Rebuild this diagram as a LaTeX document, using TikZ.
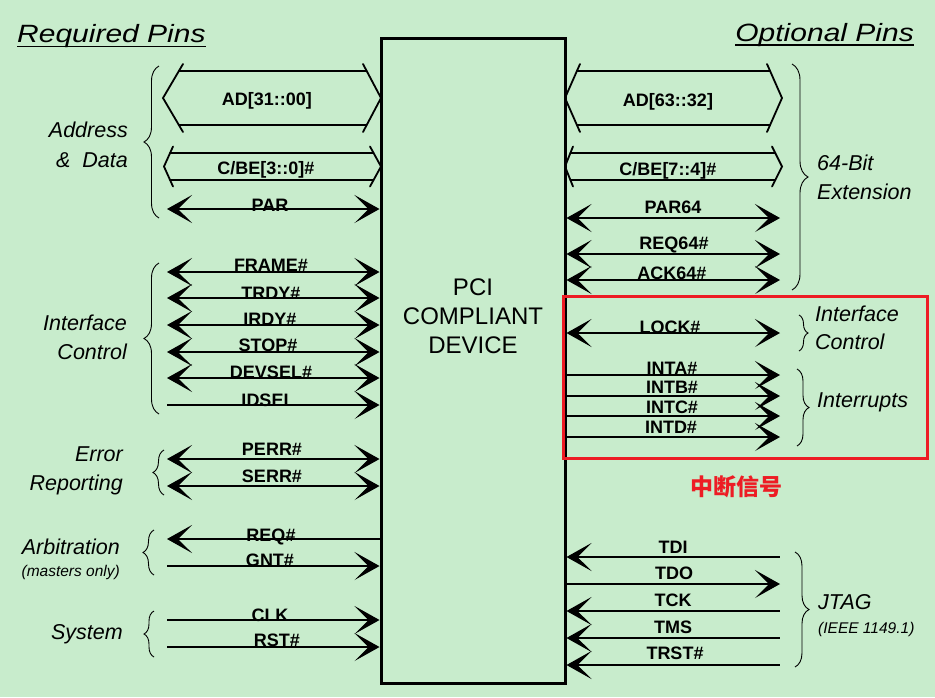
\documentclass[tikz,border=0pt]{standalone}
\usepackage{fontspec}
\usepackage{graphicx}
\setmainfont{Liberation Sans}
\newfontfamily\cjk{Noto Sans CJK SC}
\usetikzlibrary{arrows.meta,decorations.pathreplacing,calc}
\definecolor{bg}{RGB}{200,236,204}
\definecolor{hlred}{RGB}{237,28,36}
\tikzset{
  bigtip/.tip={Stealth[length=25pt,width=28pt,inset=14pt]},
  both/.style={line width=1.2pt,arrows={bigtip-bigtip}},
  toright/.style={line width=1.2pt,arrows={-bigtip}},
  toleft/.style={line width=1.2pt,arrows={bigtip-}},
  plainline/.style={line width=1.2pt},
  bus/.style={line width=1.8pt,line cap=round},
  siglabel/.style={font=\fontsize{18}{18}\selectfont\bfseries,inner sep=0pt,text height=13pt,text depth=0pt},
  grp/.style={font=\fontsize{21.5}{22}\selectfont\itshape,inner sep=0pt,text height=15.5pt,text depth=0pt},
  grpsmall/.style={font=\fontsize{15.5}{16}\selectfont\itshape,inner sep=0pt,text height=11pt,text depth=0pt},
  bracel/.style={line width=0.9pt,decorate,decoration={brace,amplitude=#1,aspect=0.5}},
  titletext/.style={font=\fontsize{25}{25}\selectfont\itshape,inner sep=0pt,text depth=0pt},
}
\newcommand\lsig[6]{%
  \coordinate (#1) at (167,#2);
  \draw[#3] (#1) -- (dev.west |- #1);
  \node[siglabel] (#1-t) at (#5,#6) {#4};
}
\newcommand\rsig[6]{%
  \coordinate (#1) at (780,#2);
  \draw[#3] (dev.east |- #1) -- (#1);
  \node[siglabel] (#1-t) at (#5,#6) {#4};
}
\newcommand\busshape[8]{%
  \coordinate (#1-l) at (#2,#4);
  \coordinate (#1-r) at (#3,#4);
  \draw[bus] ($(#1-l)+(#7,-#6)$) -- (#1-l) -- ($(#1-l)+(#7,#6)$);
  \draw[bus] ($(#1-r)+(-#8,-#6)$) -- (#1-r) -- ($(#1-r)+(-#8,#6)$);
  \draw[bus] ($(#1-l)+({#7*#5/#6},-#5)$) -- ($(#1-r)+({-#8*#5/#6},-#5)$);
  \draw[bus] ($(#1-l)+({#7*#5/#6},#5)$) -- ($(#1-r)+({-#8*#5/#6},#5)$);
}
\begin{document}
\begin{tikzpicture}[x=1pt,y=-1pt]
\fill[bg] (0,0) rectangle (935,697);
\useasboundingbox (0,0) rectangle (935,697);

% device box
\node[draw,line width=3pt,minimum width=184pt,minimum height=645pt,inner sep=0pt] (dev) at (473,360.5) {};
\node[font=\fontsize{24}{29}\selectfont,align=center,inner sep=0pt] (devtext) at (473,316) {PCI\\COMPLIANT\\DEVICE};

% buses
\busshape{ad31}{163}{381}{98}{27}{34}{20}{18}
\busshape{cbe3}{164}{381}{166.5}{13.5}{20}{9}{11}
\busshape{ad63}{565}{782}{98}{27}{34}{15}{15}
\busshape{cbe7}{565}{782}{166.5}{13.5}{20}{8}{10}
\node[siglabel] (ad31-t) at (267,99) {AD[31::00]};
\node[siglabel] (cbe3-t) at (266,168) {C/BE[3::0]\#};
\node[siglabel] (ad63-t) at (668,100) {AD[63::32]};
\node[siglabel] (cbe7-t) at (668,169) {C/BE[7::4]\#};

% left signals
\lsig{par}{209}{both}{PAR}{270}{205}
\lsig{frame}{272}{both}{FRAME\#}{271}{265}
\lsig{trdy}{298}{both}{TRDY\#}{271}{293}
\lsig{irdy}{325}{both}{IRDY\#}{270}{319}
\lsig{stop}{352}{both}{STOP\#}{268}{345}
\lsig{devsel}{378}{both}{DEVSEL\#}{271}{372}
\lsig{idsel}{405}{toright}{IDSEL}{268}{400}
\lsig{perr}{459}{both}{PERR\#}{272}{449}
\lsig{serr}{486}{both}{SERR\#}{272}{476}
\lsig{req}{539}{toleft}{REQ\#}{271}{535}
\lsig{gnt}{566}{toright}{GNT\#}{270}{560}
\lsig{clk}{620}{toright}{CLK}{270}{615}
\lsig{rst}{647}{toright}{RST\#}{277}{640}

% right signals
\rsig{par64}{218}{both}{PAR64}{673}{207}
\rsig{req64}{254}{both}{REQ64\#}{674}{243}
\rsig{ack64}{280}{both}{ACK64\#}{672}{273}
\rsig{lock}{333}{both}{LOCK\#}{670}{327}
\rsig{inta}{375}{toright}{INTA\#}{672}{368}
\rsig{intb}{396}{toright}{INTB\#}{672}{387}
\rsig{intc}{416}{toright}{INTC\#}{672}{407}
\rsig{intd}{437}{toright}{INTD\#}{671}{427}
\rsig{tdi}{557}{toleft}{TDI}{673}{547}
\rsig{tdo}{584}{toright}{TDO}{674}{573}
\rsig{tck}{611}{toleft}{TCK}{673}{600}
\rsig{tms}{638}{toleft}{TMS}{673}{627}
\rsig{trst}{665}{toleft}{TRST\#}{675}{653}

% left braces and group labels
\draw[bracel=15pt] (159,218) -- (159,66);
\draw[bracel=15pt] (159,414) -- (159,263);
\draw[bracel=11pt] (164,495) -- (164,450);
\draw[bracel=11pt] (154,575) -- (154,530);
\draw[bracel=10pt] (154,657) -- (154,611);
\node[grp,anchor=east] (g-addr1) at (128,130) {Address};
\node[grp,anchor=east] (g-addr2) at (128,160) {\&\ \ Data};
\node[grp,anchor=east] (g-if1) at (127,323) {Interface};
\node[grp,anchor=east] (g-if2) at (127,352) {Control};
\node[grp,anchor=east] (g-err1) at (123,454) {Error};
\node[grp,anchor=east] (g-err2) at (123,483) {Reporting};
\node[grp,anchor=east] (g-arb1) at (120,547) {Arbitration};
\node[grpsmall,anchor=east] (g-arb2) at (120,571) {(masters only)};
\node[grp,anchor=east] (g-sys) at (123,632) {System};

% right braces and group labels
\draw[bracel=16pt] (792,64) -- (792,290);
\draw[bracel=9pt] (799,315) -- (799,351);
\draw[bracel=12pt] (797,369) -- (797,446);
\draw[bracel=14pt] (795,552) -- (795,667);
\node[grp,anchor=west] (g-64a) at (817,163) {64-Bit};
\node[grp,anchor=west] (g-64b) at (817,192) {Extension};
\node[grp,anchor=west] (g-rif1) at (815,314) {Interface};
\node[grp,anchor=west] (g-rif2) at (815,342) {Control};
\node[grp,anchor=west] (g-int) at (817,400) {Interrupts};
\node[grp,anchor=west] (g-jtag) at (818,602) {JTAG};
\node[grpsmall,anchor=west] (g-ieee) at (818,628) {(IEEE 1149.1)};

% highlight
\node[draw=hlred,line width=3pt,minimum width=364pt,minimum height=162pt,inner sep=0pt] (hl) at (745,377) {};
\node[text=hlred,font=\cjk\fontsize{23}{23}\selectfont\bfseries,inner sep=0pt] (hltext) at (736,487) {中断信号};

% titles
\node[titletext,anchor=base west] (req-title) at (17,42) {\scalebox{1.2}[1]{Required Pins}};
\draw[line width=1.5pt] ([yshift=-4.5pt]req-title.south west) -- ([yshift=-4.5pt]req-title.south east);
\node[titletext,anchor=base east] (opt-title) at (914,41) {\scalebox{1.2}[1]{Optional Pins}};
\draw[line width=1.5pt] ([yshift=-4pt]opt-title.south west) -- ([yshift=-4pt]opt-title.south east);
\end{tikzpicture}
\end{document}
